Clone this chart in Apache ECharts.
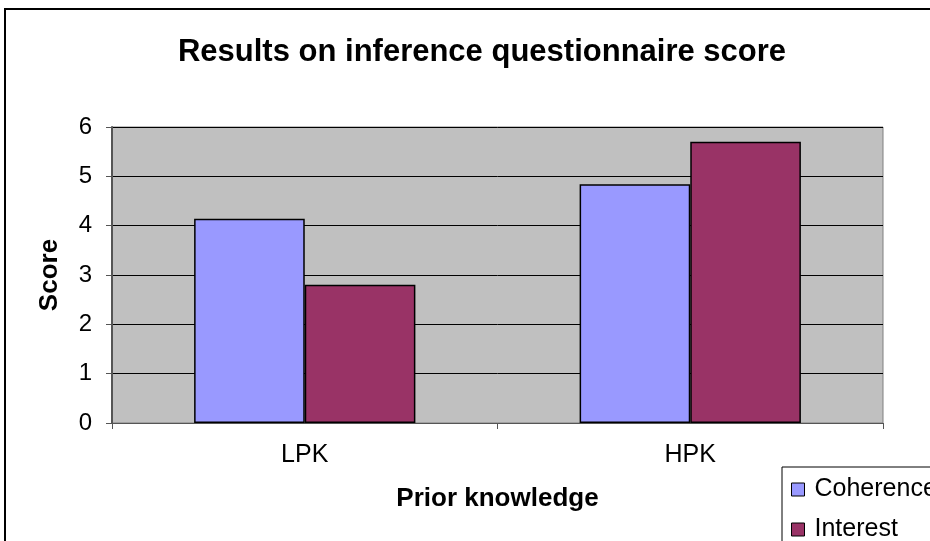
<!DOCTYPE html>
<html>
<head>
<meta charset="utf-8">
<script src="https://cdn.jsdelivr.net/npm/echarts@6/dist/echarts.min.js"></script>
<style>
  html, body { margin: 0; padding: 0; background: #fff; }
  #chart { width: 930px; height: 541px; }
</style>
</head>
<body>
<div id="chart"></div>
<script>
const categories = ['LPK', 'HPK'];
const coherence = [4.14, 4.84];
const interest = [2.80, 5.70];
const yTicks = [0, 1, 2, 3, 4, 5, 6];

const font = 'Liberation Sans, Arial, sans-serif';
const myChart = echarts.init(document.getElementById('chart'));

const option = {
  animation: false,
  backgroundColor: '#fff',
  title: {
    text: 'Results on inference questionnaire score',
    left: 477,
    textAlign: 'center',
    top: 32,
    textStyle: { fontFamily: font, fontSize: 31, fontWeight: 'bold', color: '#000' }
  },
  // outer chart frame (runs off the right and bottom edges)
  graphic: [{
    type: 'rect',
    shape: { x: 5, y: 9, width: 1000, height: 1000 },
    style: { fill: 'none', stroke: '#000', lineWidth: 2 },
    z: -1
  }],
  legend: {
    orient: 'vertical',
    left: 782,
    top: 467,
    height: 200,
    padding: [10, 100, 30, 9],
    borderColor: '#000',
    borderWidth: 1,
    itemWidth: 13,
    itemHeight: 13,
    itemGap: 15,
    icon: 'rect',
    itemStyle: { borderColor: '#000', borderWidth: 1 },
    textStyle: { fontFamily: font, fontSize: 25, color: '#000', padding: [0, 0, 0, 5] },
    data: ['Coherence', 'Interest']
  },
  grid: {
    left: 112,
    right: 47,
    top: 127,
    bottom: 118,
    show: true,
    backgroundColor: '#c0c0c0',
    borderColor: '#808080',
    borderWidth: 1
  },
  xAxis: {
    type: 'category',
    data: categories,
    name: 'Prior knowledge',
    nameLocation: 'middle',
    nameGap: 63,
    nameTextStyle: { fontFamily: font, fontSize: 26, fontWeight: 'bold', color: '#000' },
    axisLine: { lineStyle: { color: '#555', width: 1 } },
    axisTick: { show: true, length: 6, lineStyle: { color: '#555' } },
    axisLabel: { fontFamily: font, fontSize: 25, color: '#000', margin: 20 }
  },
  yAxis: {
    type: 'value',
    min: 0,
    max: yTicks[yTicks.length - 1],
    interval: 1,
    name: 'Score',
    nameLocation: 'middle',
    nameGap: 49,
    nameTextStyle: { fontFamily: font, fontSize: 26, fontWeight: 'bold', color: '#000' },
    axisLine: { show: true, lineStyle: { color: '#555', width: 2 } },
    axisTick: { show: true, length: 6, lineStyle: { color: '#555' } },
    axisLabel: { fontFamily: font, fontSize: 24, color: '#000', margin: 20 },
    splitLine: { show: true, lineStyle: { color: '#000', width: 1 } }
  },
  series: [
    {
      name: 'Coherence',
      type: 'bar',
      data: coherence,
      barGap: '0%',
      barCategoryGap: '42.6%',
      itemStyle: { color: '#9999ff', borderColor: '#000', borderWidth: 1.5 }
    },
    {
      name: 'Interest',
      type: 'bar',
      data: interest,
      itemStyle: { color: '#993366', borderColor: '#000', borderWidth: 1.5 }
    }
  ]
};

myChart.setOption(option);
</script>
</body>
</html>
